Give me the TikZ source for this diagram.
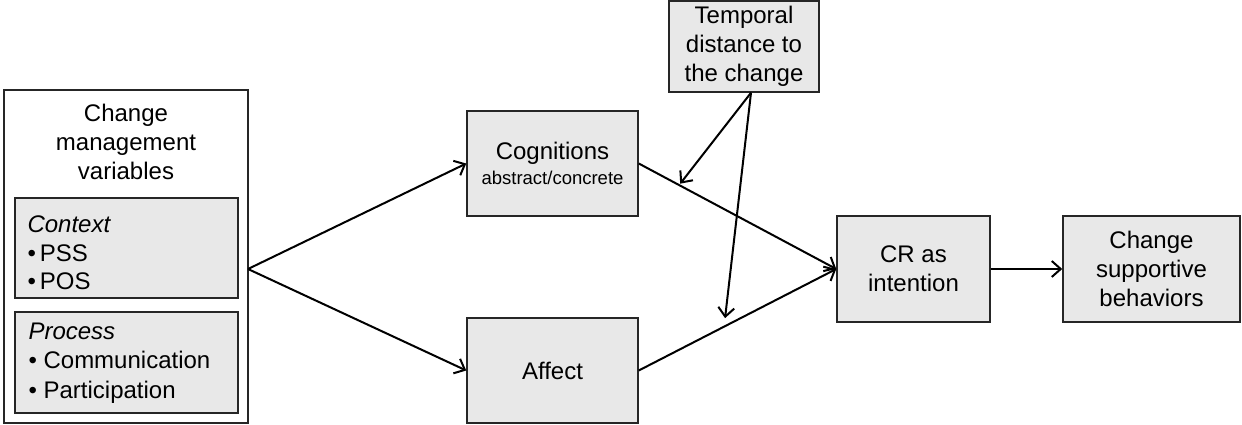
\documentclass[tikz,border=0pt]{standalone}
\usepackage{fontspec}
\setmainfont{Liberation Sans}
\usetikzlibrary{arrows.meta,calc}
\definecolor{boxgray}{HTML}{E8E8E8}
\tikzset{
  base/.style={draw=black!85, line width=1.5pt, inner sep=0pt, font=\fontsize{24}{29}\selectfont, align=center},
  graybox/.style={base, fill=boxgray},
  conn/.style={line width=2pt, -{Straight Barb[length=9pt,width=16pt,line width=2pt]}},
}
\begin{document}
\begin{tikzpicture}[x=1pt,y=-1pt]
\useasboundingbox (0,0) rectangle (1242,425);
% left outer box
\node[base, fill=white, minimum width=244pt, minimum height=333pt] (cmv) at (126,256.5) {};
\node[font=\fontsize{24}{29}\selectfont, align=center, anchor=center] (cmvt) at (126,142) {Change\\management\\variables};
\node[graybox, minimum width=223pt, minimum height=100pt] (ctx) at (126.5,248) {};
\node[font=\fontsize{24}{28.5}\selectfont, align=left, anchor=west] (ctxt) at (24,253) {\textit{Context}\\\textbullet\,PSS\\\textbullet\,POS};
\node[graybox, minimum width=223pt, minimum height=101pt] (prc) at (126.5,362.5) {};
\node[font=\fontsize{24}{29.5}\selectfont, align=left, anchor=west] (prct) at (25,363) {\textit{Process}\\\textbullet{} Communication\\\textbullet{} Participation};
% middle boxes
\node[graybox, minimum width=171pt, minimum height=105pt] (cog) at (552.5,163.5) {Cognitions\\[-4pt]{\fontsize{18.5}{22}\selectfont abstract/concrete}};
\node[graybox, minimum width=171pt, minimum height=105pt] (aff) at (552.5,370.5) {Affect};
\node[graybox, minimum width=150pt, minimum height=91pt] (tmp) at (744,46.5) {Temporal\\distance to\\the change};
\node[graybox, minimum width=153pt, minimum height=106pt] (cr) at (913.5,269) {CR as\\intention};
\node[graybox, minimum width=177pt, minimum height=106pt] (csb) at (1151.5,269) {Change\\supportive\\behaviors};
% connectors
\coordinate (src) at (248,269);
\draw[conn] (src) -- (cog.west);
\draw[conn] (src) -- (aff.west);
\draw[conn] (cog.east) -- (cr.west);
\draw[conn] (aff.east) -- (cr.west);
\draw[conn] (cr.east) -- (csb.west);
\coordinate (tsrc) at ($(tmp.south)+(7,0)$);
\path (cog.east) -- (cr.west) coordinate[pos=0.21] (m1);
\path (aff.east) -- (cr.west) coordinate[pos=0.437] (m2);
\draw[conn] (tsrc) -- ($(m1)+(0,-2)$);
\draw[conn] (tsrc) -- ($(m2)+(0,-8)$);
\end{tikzpicture}
\end{document}
